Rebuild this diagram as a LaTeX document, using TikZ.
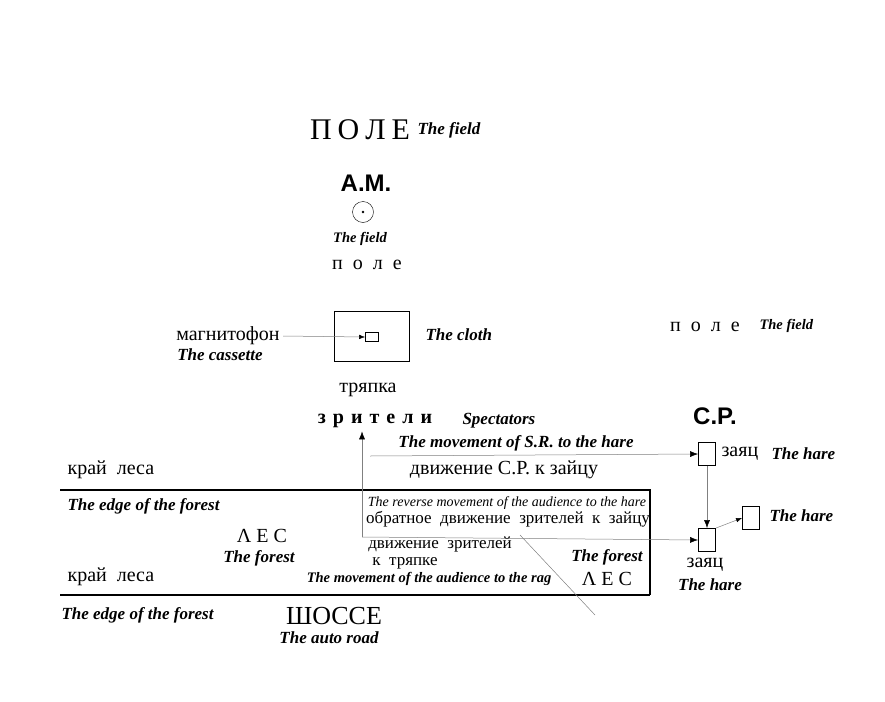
\documentclass[tikz,border=0pt]{standalone}
\usepackage{fontspec}
\setmainfont{Liberation Serif}
\setsansfont{Liberation Sans}
\usepackage{tikz}
\usetikzlibrary{arrows.meta}

\tikzset{
  en/.style = {font=\fontsize{17}{19}\selectfont\bfseries\itshape},
  ensmall/.style = {font=\fontsize{14.5}{16}\selectfont\bfseries\itshape},
  ru/.style = {font=\fontsize{20}{22}\selectfont},
  rusmall/.style = {font=\fontsize{17}{19}\selectfont},
  thin line/.style = {gray, line width=0.5pt},
  forest line/.style = {black, line width=1.3pt},
  harebox/.style = {draw, line width=0.9pt, minimum width=17pt, minimum height=23pt, inner sep=0pt},
}
\newcommand{\gap}{\hspace{0.5em}}

\begin{document}
\begin{tikzpicture}[x=1pt, y=-1pt]
        \useasboundingbox (0,0) rectangle (885,701);

        % field at the top
        \node[font=\fontsize{30}{32}\selectfont] (pole1) at (360,130) {П\hspace{0.2em}О\hspace{0.2em}Л\hspace{0.2em}Е};
        \node[en, anchor=west] (field1) at (414,130) {The field};
        \node[font=\fontsize{24}{26}\selectfont\bfseries\sffamily] (am) at (366,183) {А.М.};
        \node[draw, circle, minimum size=21pt, inner sep=0pt] (amc) at (363,212) {};
        \fill (amc) circle (1.4pt);
        \node[ensmall] (field2) at (360,239) {The field};
        \node[ru] (pole2) at (367,265) {п\gap о\gap л\gap е};

        % cloth with cassette
        \node[draw, line width=1pt, minimum width=75pt, minimum height=50pt] (cloth) at (372,336) {};
        \node[draw, line width=0.8pt, minimum width=13pt, minimum height=9pt, inner sep=0pt] (cass) at (372,337) {};
        \node[en, anchor=west] (clothen) at (422,335) {The cloth};
        \node[ru, anchor=east] (magn) at (283,336) {магнитофон};
        \node[en] (cassen) at (220,355) {The cassette};
        \draw[thin line, -{Latex[length=6pt,black]}] (magn.east) -- (cass.west);
        \node[ru] (tryapka) at (368,390) {тряпка};

        % spectators
        \node[font=\fontsize{20}{22}\selectfont\bfseries] (zr) at (375,421) {з\hspace{0.35em}р\hspace{0.35em}и\hspace{0.35em}т\hspace{0.35em}е\hspace{0.35em}л\hspace{0.35em}и};
        \node[en, anchor=west] (spec) at (459,421) {Spectators};

        % field on the right
        \node[ru] (pole3) at (705,327) {п\gap о\gap л\gap е};
        \node[ensmall, anchor=west] (field3) at (756,326) {The field};
        \node[font=\fontsize{24}{26}\selectfont\bfseries\sffamily] (sr) at (715,416) {С.Ρ.};

        % hares
        \node[harebox] (hare1) at (707,454) {};
        \node[ru, anchor=west] (zayats1) at (718,454) {заяц};
        \node[en, anchor=west] (hareen1) at (768,454) {The hare};
        \node[harebox] (hare2) at (707,540) {};
        \node[ru] (zayats2) at (705,565) {заяц};
        \node[en] (hareen2) at (710,585) {The hare};
        \node[harebox] (hare3) at (751,518) {};
        \node[en, anchor=west] (hareen3) at (766,516) {The hare};

        % forest edges
        \coordinate (f1) at (60,490);
        \coordinate (f2) at (650,490);
        \coordinate (f3) at (650,595);
        \coordinate (f4) at (60,595);
        \draw[forest line] (f1) -- (f2) -- (f3);
        \draw[forest line] (f4) -- (f3);
        \node[ru, anchor=west] (kray1) at (64,470) {край\gap леса};
        \node[en, anchor=west] (edge1) at (64,506) {The edge of the forest};
        \node[ru, anchor=west] (kray2) at (64,577) {край\gap леса};
        \node[en, anchor=west] (edge2) at (58,615) {The edge of the forest};
        \node[ru] (les1) at (262,536) {Λ Е С};
        \node[en] (forest1) at (259,558) {The forest};
        \node[en] (forest2) at (607,557) {The forest};
        \node[ru] (les2) at (607,579) {Λ Е С};

        % movements
        \coordinate (sr0) at (370,456);
        \coordinate (back) at (362,537);
        \coordinate (diag) at (595,615);
        \draw[thin line, -{Latex[length=8pt,black]}] (sr0) -- (hare1.west);
        \node[en] (movsren) at (516,443) {The movement of S.R. to the hare};
        \node[ru] (movsr) at (504,470) {движение С.Ρ. к зайцу};
        \draw[thin line, -{Latex[length=8pt,black]}] (back) -- (zr.south -| back);
        \draw[thin line, -{Latex[length=8pt,black]}] (back) -- (hare2.west);
        \draw[thin line] (520,535) -- (diag);
        \draw[thin line, -{Latex[length=8pt,black]}] (hare1.south) -- (hare2.north);
        \draw[thin line, -{Latex[length=6pt,black]}] (hare2.north east) -- (hare3.west);
        \node[font=\fontsize{14}{16}\selectfont\itshape] (revmov) at (507,503) {The reverse movement of the audience to the hare};
        \node[rusmall] (obr) at (508,519) {обратное\gap движение\gap зрителей\gap к\gap зайцу};
        \node[rusmall] (dvzr) at (440,544) {движение\gap зрителей};
        \node[rusmall] (ktr) at (405,563) {к\gap тряпке};
        \node[ensmall] (movrag) at (429,579) {The movement of the audience to the rag};

        % road
        \node[font=\fontsize{26}{28}\selectfont] (shosse) at (334,616) {ШОССЕ};
        \node[en] (road) at (329,638) {The auto road};
\end{tikzpicture}
\end{document}
